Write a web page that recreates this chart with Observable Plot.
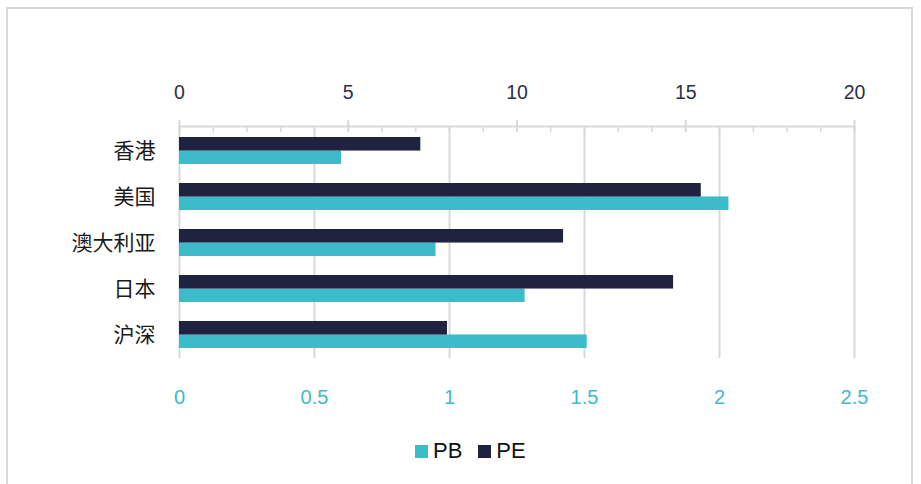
<!DOCTYPE html>
<html>
<head>
<meta charset="utf-8">
<script src="https://cdn.jsdelivr.net/npm/d3@7"></script>
<script src="https://cdn.jsdelivr.net/npm/@observablehq/plot@0.6"></script>
<style>
  html, body { margin: 0; padding: 0; background: #fff; }
  #wrap { position: relative; width: 921px; height: 484px; overflow: hidden; background: #fff; }
  #border { position: absolute; left: 6px; top: 7px; width: 907px; height: 520px; border: 2px solid #d9d9d9; box-sizing: border-box; }
  .layer { position: absolute; left: 0; top: 0; }
  #legend { position: absolute; top: 438px; left: 415px; display: flex; align-items: center;
            font-family: 'Liberation Sans', Arial, sans-serif; font-size: 22px; color: #111; }
  #legend .sw { width: 13px; height: 13px; display: inline-block; margin-right: 5px; }
  #legend .item { display: flex; align-items: center; margin-right: 16px; }
</style>
</head>
<body>
<div id="wrap">
  <div id="border"></div>
  <div id="pb" class="layer"></div>
  <div id="pe" class="layer"></div>
  <div id="legend"></div>
</div>
<script>
const categories = ["香港", "美国", "澳大利亚", "日本", "沪深"];
const peValues = [7.15, 15.46, 11.38, 14.64, 7.94];
const pbValues = [0.60, 2.035, 0.95, 1.28, 1.51];
const peTicks = [0, 5, 10, 15, 20];
const peMinorTicks = d3.range(0, 21, 1);
const pbTicks = [0, 0.5, 1, 1.5, 2, 2.5];
const seriesNames = ["PB", "PE"];
const colors = { PB: "#3dbbcb", PE: "#1f2340" };

const peData = categories.map((c, i) => ({ category: c, value: peValues[i] }));
const pbData = categories.map((c, i) => ({ category: c, value: pbValues[i] }));

const W = 921, H = 420;
const common = {
  width: W, height: H,
  marginLeft: 179, marginRight: 67, marginTop: 126, marginBottom: 62,
  style: { fontFamily: "'Liberation Sans', Arial, 'Noto Sans CJK SC', sans-serif", background: "transparent", overflow: "visible" },
  y: { domain: categories, paddingInner: 0.42, paddingOuter: 0.21, axis: null, label: null }
};
const half = 13.45;

const pbPlot = Plot.plot({
  ...common,
  x: { domain: [pbTicks[0], pbTicks[pbTicks.length - 1]], axis: null, label: null },
  marks: [
    Plot.ruleX(pbTicks, { stroke: "#d9d9d9", strokeWidth: 2 }),
    Plot.barX(pbData, { y: "category", x: "value", fill: colors.PB, insetTop: half }),
    Plot.axisX({ anchor: "bottom", ticks: pbTicks, tickSize: 0, tickPadding: 31, fontSize: 20, color: colors.PB, label: null, tickFormat: d => String(d) })
  ]
});
document.getElementById("pb").appendChild(pbPlot);

const pePlot = Plot.plot({
  ...common,
  x: { domain: [peTicks[0], peTicks[peTicks.length - 1]], axis: null, label: null },
  marks: [
    Plot.frame({ anchor: "top", stroke: "#d9d9d9", strokeWidth: 2 }),
    Plot.tickX(peMinorTicks, { x: d => d, stroke: "#d9d9d9", strokeWidth: 1.5, insetTop: 1, insetBottom: 226 }),
    Plot.tickX(peTicks, { x: d => d, stroke: "#d9d9d9", strokeWidth: 2, insetTop: -6, insetBottom: 226 }),
    Plot.barX(peData, { y: "category", x: "value", fill: colors.PE, insetBottom: half }),
    Plot.axisX({ anchor: "top", ticks: peTicks, tickSize: 0, tickPadding: 28, fontSize: 19.5, color: "#2b2f48", label: null }),
    Plot.axisY({ tickSize: 0, tickPadding: 24, fontSize: 21, color: "#1a1a1a", label: null })
  ]
});
document.getElementById("pe").appendChild(pePlot);

const legend = document.getElementById("legend");
seriesNames.forEach(s => {
  const item = document.createElement("span");
  item.className = "item";
  const sw = document.createElement("span");
  sw.className = "sw";
  sw.style.background = colors[s];
  const t = document.createElement("span");
  t.textContent = s;
  item.appendChild(sw);
  item.appendChild(t);
  legend.appendChild(item);
});
</script>
</body>
</html>
